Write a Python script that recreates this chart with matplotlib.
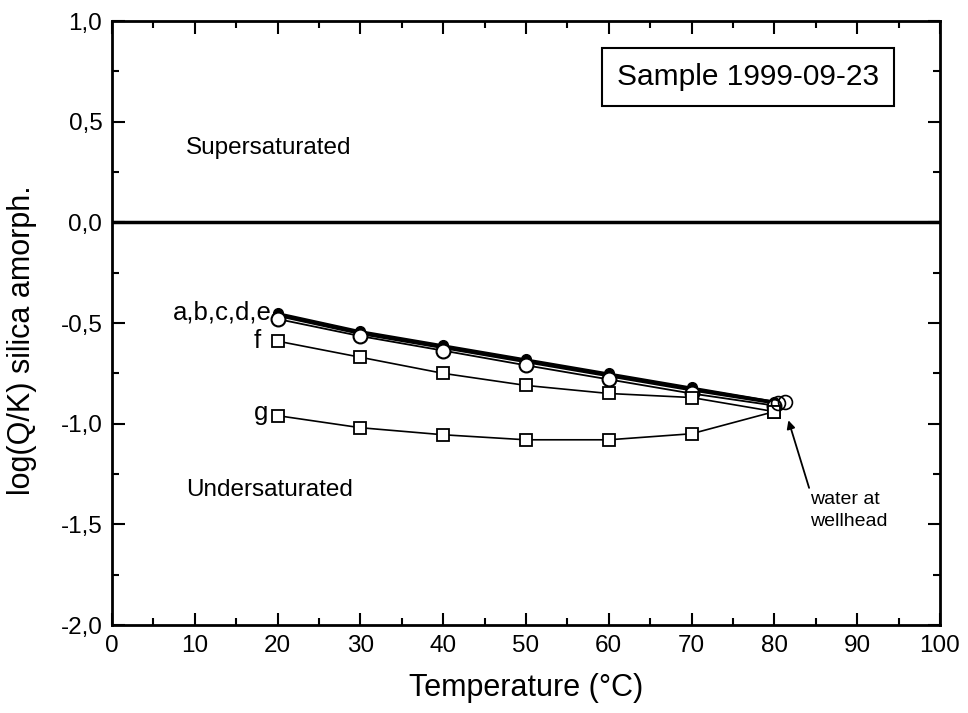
import numpy as np
from matplotlib import pyplot as plt
from matplotlib.ticker import MultipleLocator, FuncFormatter

# Saturation index of amorphous silica vs. cooling temperature
T = [20, 30, 40, 50, 60, 70, 80]
a = [-0.45, -0.54, -0.61, -0.68, -0.75, -0.82, -0.89]
b = [-0.455, -0.545, -0.615, -0.685, -0.755, -0.825, -0.89]
c = [-0.46, -0.55, -0.62, -0.69, -0.76, -0.83, -0.895]
d = [-0.465, -0.555, -0.625, -0.695, -0.765, -0.835, -0.90]
e = [-0.48, -0.565, -0.637, -0.71, -0.78, -0.85, -0.91]
f = [-0.59, -0.67, -0.75, -0.81, -0.85, -0.87, -0.94]
g = [-0.96, -1.02, -1.055, -1.08, -1.08, -1.05, -0.94]
T_well = [80.5, 81.3]
q_well = [-0.895, -0.89]

plt.rcParams['font.family'] = ['Liberation Sans', 'DejaVu Sans']
fig = plt.figure(figsize=(9.68, 7.13), dpi=100)
ax = fig.add_axes([0.1157, 0.1234, 0.8553, 0.8471])

ax.axhline(0, color='black', lw=2.5, zorder=1)

ax.plot(T, a, color='black', lw=1.3, marker='o', ms=7, mfc='black', mec='black')
ax.plot(T, b, color='black', lw=1.3, marker='^', ms=7, mfc='black', mec='black')
ax.plot(T, c, color='black', lw=1.3, marker='D', ms=6, mfc='black', mec='black')
ax.plot(T, d, color='black', lw=1.3, marker='o', ms=5, mfc='black', mec='black')
ax.plot(T, e, color='black', lw=1.3, marker='o', ms=10, mfc='white', mec='black', mew=1.5)
ax.plot(T, f, color='black', lw=1.2, marker='s', ms=8.5, mfc='white', mec='black', mew=1.3)
ax.plot(T, g, color='black', lw=1.2, marker='s', ms=8.5, mfc='white', mec='black', mew=1.3)
ax.plot(T_well, q_well, ls='', marker='o', ms=10, mfc='none', mec='black', mew=1.2)

ax.text(19.3, -0.45, 'a,b,c,d,e', fontsize=18.5, ha='right', va='center')
ax.text(18.0, -0.59, 'f', fontsize=18.5, ha='right', va='center')
ax.text(18.9, -0.945, 'g', fontsize=18.5, ha='right', va='center')
ax.text(8.9, 0.37, 'Supersaturated', fontsize=17.5, va='center')
ax.text(8.9, -1.33, 'Undersaturated', fontsize=17.5, va='center')
ax.text(76.8, 0.72, 'Sample 1999-09-23', fontsize=21.5, ha='center', va='center',
        bbox=dict(boxstyle='square,pad=0.5', fc='white', ec='black', lw=1.5))
ax.annotate('water at\nwellhead', xy=(81.6, -0.97), xytext=(84.3, -1.43),
            fontsize=14, ha='left', va='center', linespacing=1.4,
            arrowprops=dict(arrowstyle='-|>', color='black', lw=1.3,
                            shrinkA=0, shrinkB=2, mutation_scale=12,
                            relpos=(0.0, 1.0)))

ax.set_xlim(0, 100)
ax.set_ylim(-2.0, 1.0)
ax.xaxis.set_major_locator(MultipleLocator(10))
ax.xaxis.set_minor_locator(MultipleLocator(5))
ax.yaxis.set_major_locator(MultipleLocator(0.5))
ax.yaxis.set_minor_locator(MultipleLocator(0.25))
ax.yaxis.set_major_formatter(FuncFormatter(lambda v, p: f'{v:.1f}'.replace('.', ',')))
ax.tick_params(which='both', direction='in', top=True, right=True, width=1.5, labelsize=17.5)
ax.tick_params(which='major', length=9, pad=7)
ax.tick_params(which='minor', length=5)
for s in ax.spines.values():
    s.set_linewidth(2)

ax.set_xlabel('Temperature (°C)', fontsize=22, labelpad=12)
ax.set_ylabel('log(Q/K) silica amorph.', fontsize=22)
ax.yaxis.set_label_coords(-0.09, 0.472)

plt.savefig('out.png', dpi=100)
